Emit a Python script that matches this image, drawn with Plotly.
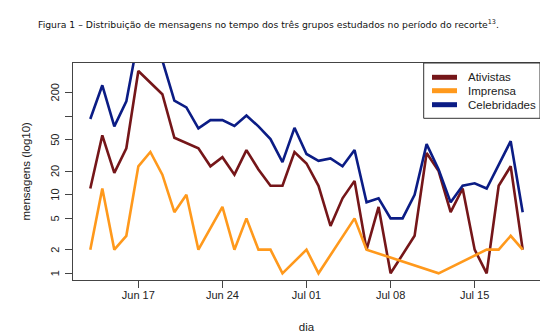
import math
import pandas as pd
import plotly.graph_objects as go

# Days (Jun 13 .. Jul 19, 2013)
dias = pd.date_range("2013-06-13", "2013-07-19", freq="D")

# Daily message counts (None = no messages that day)
ativistas = [12, 57, 19, 39, 375, 270, 190, 53, 45, 39, 23, 30, 18, 37, 21, 13, 13, 35, 25,
             13, 4, 9, 15, 2, 7, 1, None, 3, 34, 20, 6, 12, 2, 1, 13, 23, 2]
imprensa = [2, 12, 2, 3, 23, 35, 18, 6, 10, 2, None, 7, 2, 5, 2, 2, 1, None, 2,
            1, None, None, 5, 2, None, None, None, None, None, 1, None, None, None, 2, 2, 3, 2]
celebridades = [92, 247, 74, 154, 1000, 800, 510, 157, 129, 70, 89, 89, 75, 102, 74, 51, 26, 71, 33,
                27, 29, 23, 37, 8, 9, 5, 5, 10, 44, 21, 8, 13, 14, 12, 24, 48, 6]

series_names = ["Ativistas", "Imprensa", "Celebridades"]
series_colors = ["#751619", "#FF991C", "#0B1C85"]

y_tick_vals = [1, 2, 5, 10, 20, 50, 100, 200]
y_tick_text = ["1", "2", "5", "10", "20", "50", "", "200"]
x_tick_dates = ["2013-06-17", "2013-06-24", "2013-07-01", "2013-07-08", "2013-07-15"]
x_tick_text = ["Jun 17", "Jun 24", "Jul 01", "Jul 08", "Jul 15"]

titulo = ("Figura 1 \u2013 Distribui\u00e7\u00e3o de mensagens no tempo dos tr\u00eas grupos "
          "estudados no per\u00edodo do recorte<sup>13</sup>.")

W, H = 548, 336
L, R, T, B = 65, 16, 55, 64
PW, PH = W - L - R, H - T - B


def px(x):
    return (x - L) / PW


def py(y):
    return (H - B - y) / PH


fig = go.Figure()
for name, vals, col in zip(series_names, [ativistas, imprensa, celebridades], series_colors):
    fig.add_trace(go.Scatter(x=dias, y=vals, mode="lines", name=name, connectgaps=True,
                             showlegend=False, line=dict(color=col, width=2.6)))

span = dias[-1] - dias[0]
pad = span * 0.04
x_range = [dias[0] - pad, dias[-1] + pad]

font_family = "Liberation Sans, Arial, sans-serif"
axis_font = dict(family=font_family, size=11, color="#222")

# legend drawn as a boxed key in the top-right corner
shapes = [dict(type="rect", xref="paper", yref="paper", x0=px(415.7), x1=1, y0=py(110.3), y1=1,
               line=dict(color="#333", width=1), fillcolor="white", layer="above")]
annotations = []
leg_y = [69.3, 82.7, 96.7]
for name, col, ly in zip(series_names, series_colors, leg_y):
    shapes.append(dict(type="line", xref="paper", yref="paper", x0=px(424), x1=px(449),
                       y0=py(ly), y1=py(ly), line=dict(color=col, width=5), layer="above"))
    annotations.append(dict(text=name, x=px(458), y=py(ly), xref="paper", yref="paper",
                            xanchor="left", yanchor="middle", showarrow=False,
                            font=dict(family=font_family, size=11.5, color="#222")))

# vertical (rotated) y tick labels, placed on the log axis scale
for v, t in zip(y_tick_vals, y_tick_text):
    if t:
        annotations.append(dict(text=t, x=px(47), y=math.log10(v), xref="paper", yref="y",
                                xanchor="center", yanchor="middle", textangle=-90, showarrow=False,
                                font=dict(family=font_family, size=11, color="#222")))

annotations.append(dict(text=titulo, x=px(260), y=py(16), xref="paper", yref="paper",
                        xanchor="center", yanchor="middle", showarrow=False,
                        font=dict(family="DejaVu Sans", size=9.25, color="#111")))
annotations.append(dict(text="mensagens (log10)", x=px(17), y=py(163.5), xref="paper", yref="paper",
                        xanchor="center", yanchor="middle", textangle=-90, showarrow=False,
                        font=dict(family=font_family, size=11.5, color="#222")))

fig.update_layout(
    template="none",
    width=W, height=H,
    margin=dict(l=L, r=R, t=T, b=B, autoexpand=False),
    paper_bgcolor="white", plot_bgcolor="white",
    font=axis_font,
    showlegend=False,
    shapes=shapes,
    annotations=annotations,
)

fig.update_xaxes(
    automargin=False,
    range=x_range, tickvals=pd.to_datetime(x_tick_dates), ticktext=x_tick_text,
    showgrid=False, zeroline=False, showline=True, linecolor="#444", linewidth=1, mirror=True,
    ticks="outside", ticklen=7, tickcolor="#444", ticklabelstandoff=-2,
    title=dict(text="dia", font=dict(size=11.5), standoff=22),
)
fig.update_yaxes(
    automargin=False,
    type="log", range=[-0.085, 2.676], tickvals=y_tick_vals, showticklabels=False,
    showgrid=False, zeroline=False, showline=True, linecolor="#444", linewidth=1, mirror=True,
    ticks="outside", ticklen=7, tickcolor="#444",
)

fig.write_html("out.html")
